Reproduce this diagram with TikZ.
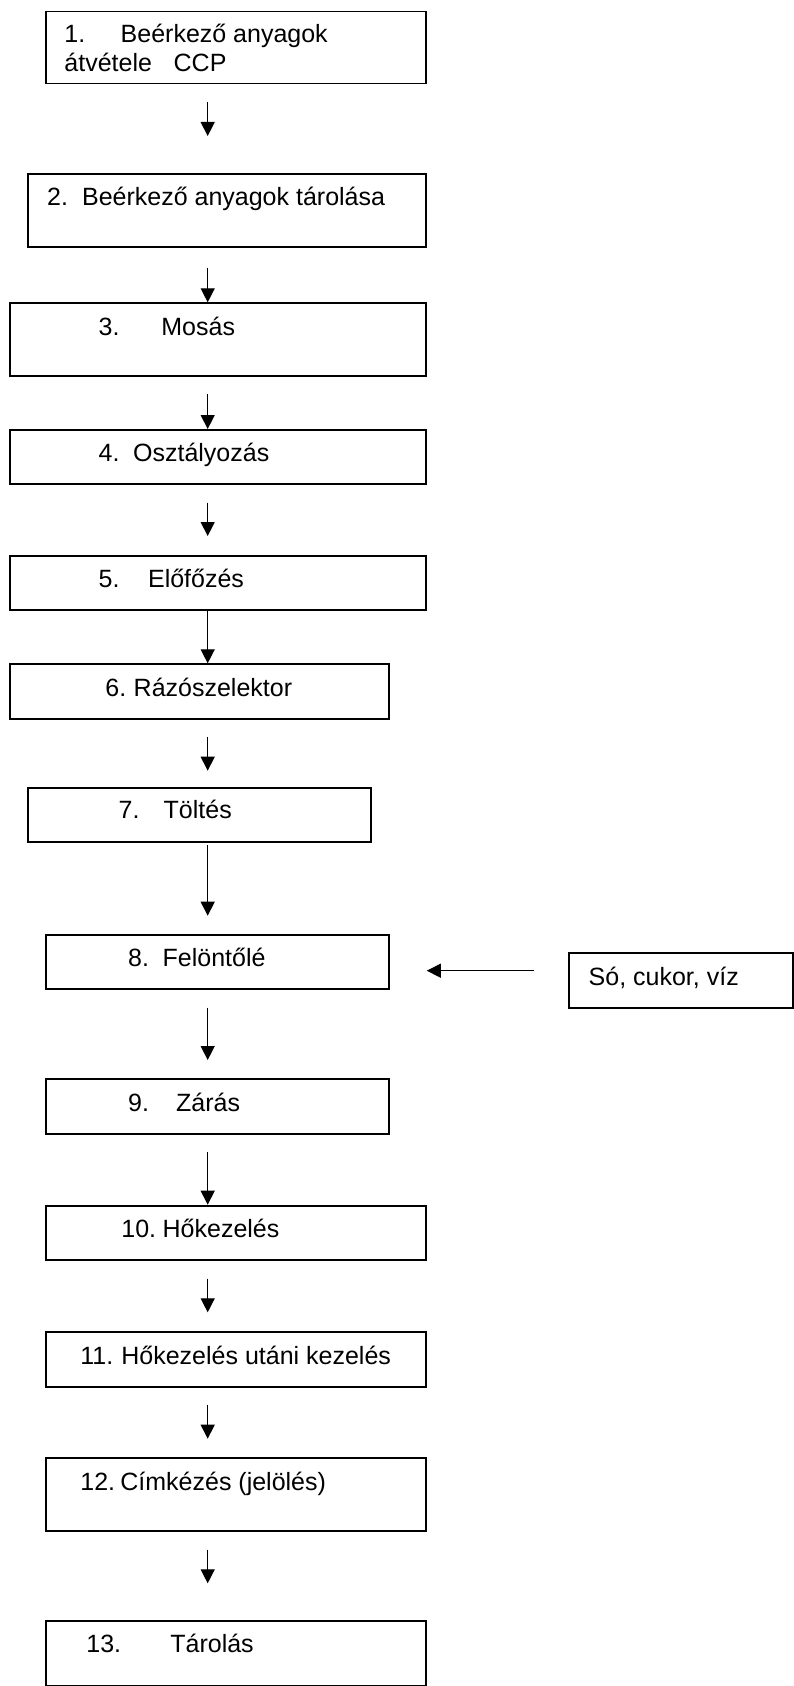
\documentclass[tikz,border=0pt]{standalone}
\usepackage{fontspec}
\setmainfont{Liberation Sans}
\usepackage{tikz}
\usetikzlibrary{arrows.meta}

\newcommand{\numtab}[2]{\makebox[#1][l]{#2}}

\begin{document}
\begin{tikzpicture}[x=0.5pt, y=-0.5pt, >={Triangle[length=7pt,width=7pt]}]
        \tikzset{
           stepbox/.style={
                        rectangle,
                        draw=black,
                        line width=0.9pt,
                        fill=none,
                        anchor=north west,
                        inner sep=0pt
                       },
           steptext/.style={
                        anchor=base west,
                        inner sep=0pt,
                        text=black,
                        font=\fontsize{12.5}{15}\selectfont
                       },
           flow/.style={
                        ->,
                        line width=0.65pt,
                        shorten <=8.7pt,
                        shorten >=9.2pt
                       },
                 };
        \useasboundingbox (0,0) rectangle (793,1686);
        %----------------
        \node[stepbox, minimum width=190pt,    minimum height=36pt]    (b1)  at (45,10.7) {};
        \node[stepbox, minimum width=199.15pt, minimum height=36.5pt]  (b2)  at (26.7,172.7) {};
        \node[stepbox, minimum width=208.15pt, minimum height=36.35pt] (b3)  at (8.7,302.3) {};
        \node[stepbox, minimum width=208.15pt, minimum height=27pt]    (b4)  at (8.7,429) {};
        \node[stepbox, minimum width=208.15pt, minimum height=27.15pt] (b5)  at (8.7,555) {};
        \node[stepbox, minimum width=189.8pt,  minimum height=27.2pt]  (b6)  at (8.7,663.3) {};
        \node[stepbox, minimum width=171.8pt,  minimum height=27.15pt] (b7)  at (26.7,786.7) {};
        \node[stepbox, minimum width=171.65pt, minimum height=27.15pt] (b8)  at (45,934) {};
        \node[stepbox, minimum width=171.65pt, minimum height=27.5pt]  (b9)  at (45,1078) {};
        \node[stepbox, minimum width=190pt,    minimum height=27.3pt]  (b10) at (45,1204.7) {};
        \node[stepbox, minimum width=190pt,    minimum height=27.5pt]  (b11) at (45,1330.7) {};
        \node[stepbox, minimum width=190pt,    minimum height=36.5pt]  (b12) at (45,1457) {};
        \node[stepbox, minimum width=190pt,    minimum height=32.5pt]  (b13) at (45,1620) {};
        \node[stepbox, minimum width=111.85pt, minimum height=27.5pt]  (bIn) at (568.3,951.7) {};
        %----------------
        \node[steptext] (t1a) at (64,43)      {\numtab{28.15pt}{1.}Beérkező anyagok};
        \node[steptext] (t1b) at (64,72)      {\numtab{54.65pt}{átvétele}CCP};
        \node[steptext] (t2)  at (46.7,205.7) {\numtab{17.5pt}{2.}Beérkező anyagok tárolása};
        \node[steptext] (t3)  at (98.3,335)   {\numtab{31.35pt}{3.}Mosás};
        \node[steptext] (t4)  at (98.3,461.7) {\numtab{17.2pt}{4.}Osztályozás};
        \node[steptext] (t5)  at (98.3,587.7) {\numtab{24.7pt}{5.}Előfőzés};
        \node[steptext] (t6)  at (105,696)    {\numtab{14.15pt}{6.}Rázószelektor};
        \node[steptext] (t7)  at (118.3,818.7) {\numtab{22.5pt}{7.}Töltés};
        \node[steptext] (t8)  at (127.7,966.7) {\numtab{17.3pt}{8.}Felöntőlé};
        \node[steptext] (t9)  at (127.7,1111.7) {\numtab{24pt}{9.}Zárás};
        \node[steptext] (t10) at (121,1237.3)  {\numtab{20.65pt}{10.}Hőkezelés};
        \node[steptext] (t11) at (80,1364.3)   {\numtab{20.5pt}{11.}Hőkezelés utáni kezelés};
        \node[steptext] (t12) at (80,1490.3)   {\numtab{20pt}{12.}Címkézés (jelölés)};
        \node[steptext] (t13) at (86,1652.7)   {\numtab{42pt}{13.}Tárolás};
        \node[steptext] (tIn) at (588.3,985)   {Só, cukor, víz};
        %----------------
        \coordinate (spine) at (207.7,0);
        \coordinate (feed)  at (0,970.7);
        \draw[flow, shorten <=8.65pt, shorten >=18.35pt] (b1.south -| spine) -- (b2.north -| spine);
        \draw[flow, shorten <=10pt,   shorten >=0pt]     (b2.south -| spine) -- (b3.north -| spine);
        \draw[flow, shorten <=8.5pt,  shorten >=0pt]     (b3.south -| spine) -- (b4.north -| spine);
        \draw[flow, shorten <=8.85pt, shorten >=9.5pt]   (b4.south -| spine) -- (b5.north -| spine);
        \draw[flow, shorten <=0pt,    shorten >=0pt]     (b5.south -| spine) -- (b6.north -| spine);
        \draw[flow, shorten <=8.65pt, shorten >=8pt]     (b6.south -| spine) -- (b7.north -| spine);
        \draw[flow, shorten <=1.15pt, shorten >=9.15pt]  (b7.south -| spine) -- (b8.north -| spine);
        \draw[flow, shorten >=9pt]                       (b8.south -| spine) -- (b9.north -| spine);
        \draw[flow, shorten <=8.5pt,  shorten >=0pt]     (b9.south -| spine) -- (b10.north -| spine);
        \draw[flow]                                      (b10.south -| spine) -- (b11.north -| spine);
        \draw[flow, shorten <=8.5pt,  shorten >=9.15pt]  (b11.south -| spine) -- (b12.north -| spine);
        \draw[flow, shorten <=8.85pt, shorten >=18.35pt] (b12.south -| spine) -- (b13.north -| spine);
        \draw[flow, shorten <=17.15pt, shorten >=18.35pt] (bIn.west |- feed) -- (b8.east |- feed);
\end{tikzpicture}
\end{document}
